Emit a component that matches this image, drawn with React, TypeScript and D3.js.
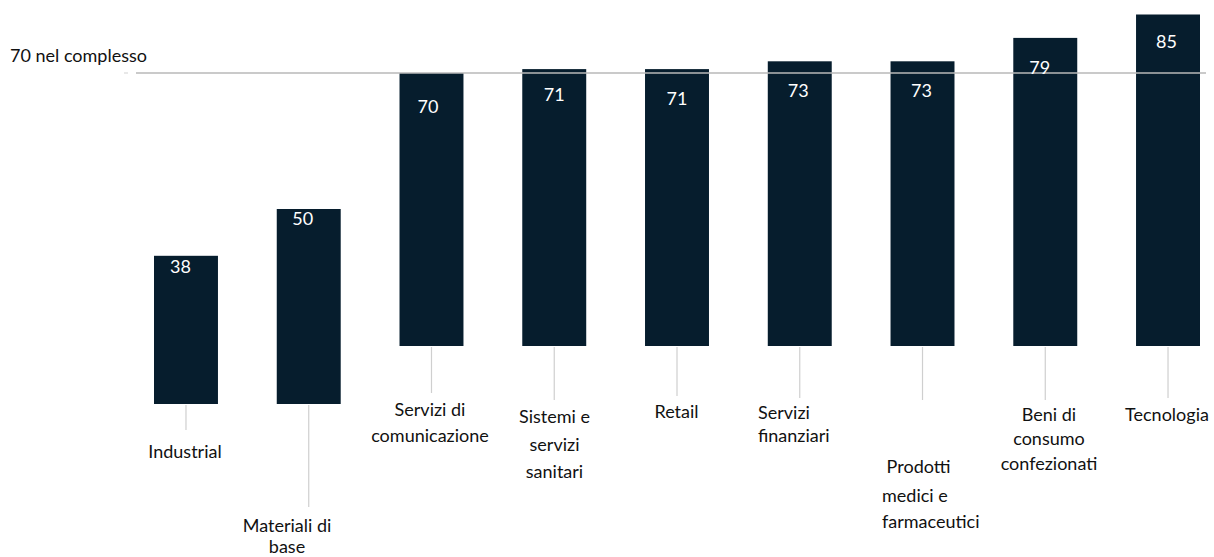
import React from "react";
import * as d3 from "d3";

const categories: string[][] = [
  ["Industrial"],
  ["Materiali di", "base"],
  ["Servizi di", "comunicazione"],
  ["Sistemi e", "servizi", "sanitari"],
  ["Retail"],
  ["Servizi", "finanziari"],
  ["\u00a0Prodotti", "medici e", "farmaceutici"],
  ["Beni di", "consumo", "confezionati"],
  ["Tecnologia"],
];
const values: number[] = [38, 50, 70, 71, 71, 73, 73, 79, 85];
const overall = 70;
const overallLabel = "70 nel complesso";

// layout (pixels)
const W = 1214;
const H = 557;
const baseShift = [58, 58, 0, 0, 0, 0, 0, 0, 0];
const valDx = [-5.5, -6, -3.5, 0, 0, -1.5, -1, -5.5, -1.5];
const valDy = [17, 16, 40, 32, 36, 36, 36, 36, 33];
const tickEnd = [430, 507, 393, 400, 396, 398, 400, 400, 398];
const labelBase = [
  [458],
  [532, 553],
  [416, 442],
  [423, 451, 478],
  [418],
  [419, 442],
  [473, 502, 528],
  [421, 445, 470],
  [421],
];
const labelAnchor = ["middle", "middle", "middle", "middle", "middle", "start", "start", "middle", "middle"];
const labelX = [185, 287, 430, 554.5, 676.5, 758, 882, 1049, 1167];

const FONT = "Lato, 'Open Sans', sans-serif";
const BAR = "#061d2d";

export default function App() {
  const idx = categories.map((_, i) => String(i));
  const x = d3
    .scaleBand<string>()
    .domain(idx)
    .range([124.6, 1229.4])
    .paddingInner(0.479)
    .paddingOuter(0.2395);
  const y = d3.scaleLinear().domain([0, 85]).range([346, 14.5]);

  return (
    <svg
      width={W}
      height={H}
      style={{ position: "absolute", left: 0, top: 0, background: "#fff" }}
      fontFamily={FONT}
    >
      {/* bars */}
      {values.map((v, i) => {
        const x0 = x(String(i))!;
        const top = y(v) + baseShift[i];
        const bottom = y(0) + baseShift[i];
        return <rect key={"b" + i} x={x0} y={top} width={x.bandwidth()} height={bottom - top} fill={BAR} />;
      })}
      {/* ticks */}
      {values.map((v, i) => {
        const cx = x(String(i))! + x.bandwidth() / 2;
        const bottom = y(0) + baseShift[i];
        return (
          <line key={"t" + i} x1={cx} x2={cx} y1={bottom + 1} y2={tickEnd[i]} stroke="#cfcfcf" strokeWidth={1.2} />
        );
      })}
      {/* reference line */}
      <line x1={124} x2={128} y1={y(overall)} y2={y(overall)} stroke="#d8d8d8" strokeWidth={1.2} />
      <line x1={136} x2={1206} y1={y(overall)} y2={y(overall)} stroke="#b8b8b8" strokeWidth={1.5} />
      <text x={10} y={62} fontSize={18} fill="#111">
        {overallLabel}
      </text>
      {/* value labels */}
      {values.map((v, i) => {
        const cx = x(String(i))! + x.bandwidth() / 2 + valDx[i];
        const top = y(v) + baseShift[i];
        return (
          <text key={"v" + i} x={cx} y={top + valDy[i]} fontSize={18} fill="#fff" textAnchor="middle">
            {v}
          </text>
        );
      })}
      {/* category labels */}
      {categories.map((lines, i) =>
        lines.map((ln, j) => (
          <text
            key={"c" + i + "-" + j}
            x={labelX[i]}
            y={labelBase[i][j]}
            fontSize={18}
            fill="#111"
            textAnchor={labelAnchor[i] as any}
          >
            {ln}
          </text>
        ))
      )}
    </svg>
  );
}
